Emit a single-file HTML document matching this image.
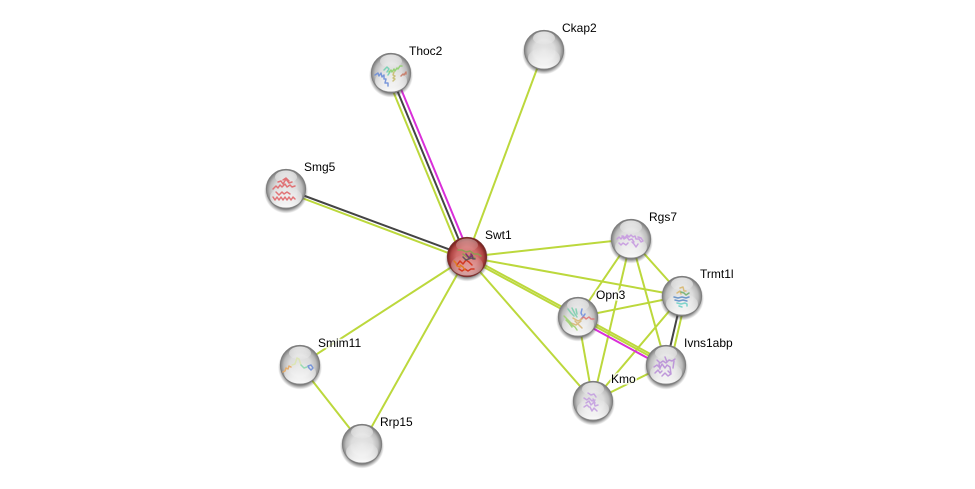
<!DOCTYPE html>
<html><head><meta charset="utf-8"><style>
html,body{margin:0;padding:0;background:#fff;width:975px;height:489px;overflow:hidden}
svg{display:block}
text{font-family:"Liberation Sans",sans-serif;font-size:12px;fill:#000}
.h{fill:#fff;stroke:#fff;stroke-width:3.5;stroke-opacity:.75;stroke-linejoin:round}
.g{stroke:#bcd83c;stroke-width:2;fill:none}
.s{fill:none;stroke-width:1.5;stroke-linecap:round;stroke-linejoin:round;stroke-opacity:.9}
</style></head><body>
<svg width="975" height="489" viewBox="0 0 975 489" xmlns="http://www.w3.org/2000/svg">
<defs>
<radialGradient id="b" cx="50%" cy="52%" r="50%">
<stop offset="0" stop-color="#e6e6e6"/><stop offset=".55" stop-color="#dcdcdc"/><stop offset=".82" stop-color="#bbb"/><stop offset="1" stop-color="#7f7f7f"/>
</radialGradient>
<radialGradient id="r" cx="50%" cy="52%" r="50%">
<stop offset="0" stop-color="#dd8482"/><stop offset=".55" stop-color="#d06c6a"/><stop offset=".82" stop-color="#b04644"/><stop offset="1" stop-color="#74201e"/>
</radialGradient>
<linearGradient id="hl" x1="0" y1="0" x2="0" y2="1">
<stop offset="0" stop-color="#fff" stop-opacity=".75"/><stop offset="1" stop-color="#fff" stop-opacity=".1"/>
</linearGradient>
<linearGradient id="bot" x1="0" y1="0" x2="0" y2="1">
<stop offset="0" stop-color="#fff" stop-opacity="0"/><stop offset="1" stop-color="#fff" stop-opacity=".95"/>
</linearGradient>
<radialGradient id="sh"><stop offset=".78" stop-color="#333" stop-opacity=".7"/><stop offset="1" stop-color="#555" stop-opacity="0"/></radialGradient>
<filter id="bl" x="-20%" y="-20%" width="140%" height="140%"><feGaussianBlur stdDeviation=".35"/></filter>
<g id="top"><ellipse cx="0" cy="-12" rx="11" ry="6.5" fill="url(#hl)"/><ellipse cx="0" cy="8" rx="16" ry="10.5" fill="url(#bot)"/></g>
<g id="base"><circle cx="0" cy="2.5" r="22" fill="url(#sh)"/><circle r="19.7" fill="url(#b)" stroke="#7d7d7d" stroke-width=".8"/></g>
</defs>

<g class="g">
<line x1="467" y1="257" x2="544" y2="50"/>
<line x1="467" y1="257" x2="631" y2="239"/>
<line x1="467" y1="257" x2="682" y2="296"/>
<line x1="467" y1="257" x2="593" y2="401"/>
<line x1="467" y1="257" x2="300" y2="365"/>
<line x1="467" y1="257" x2="362" y2="444"/>
<line x1="300" y1="365" x2="362" y2="444"/>
<line x1="631" y1="239" x2="682" y2="296"/>
<line x1="631" y1="239" x2="578" y2="317"/>
<line x1="631" y1="239" x2="666" y2="365"/>
<line x1="631" y1="239" x2="593" y2="401"/>
<line x1="682" y1="296" x2="578" y2="317"/>
<line x1="682" y1="296" x2="593" y2="401"/>
<line x1="578" y1="317" x2="593" y2="401"/>
<line x1="666" y1="365" x2="593" y2="401"/>
<line x1="467" y1="255.5" x2="578" y2="315.5"/>
<line x1="467" y1="258" x2="578" y2="318"/>
<line x1="578" y1="314.5" x2="666" y2="362.5"/>
<line x1="578" y1="317" x2="666" y2="365"/>
<line x1="386" y1="74" x2="462" y2="258"/>
<line x1="286" y1="192" x2="467" y2="260"/>
<line x1="686" y1="297" x2="670" y2="366"/>
</g>
<line x1="390" y1="73" x2="466" y2="257" stroke="#444" stroke-width="2"/>
<line x1="394" y1="72" x2="470" y2="256" stroke="#d92fd9" stroke-width="2"/>
<line x1="286" y1="189" x2="467" y2="256" stroke="#444" stroke-width="2"/>
<line x1="682" y1="296" x2="666" y2="365" stroke="#444" stroke-width="2"/>
<line x1="576" y1="319" x2="664" y2="367" stroke="#d92fd9" stroke-width="2"/>

<g id="nodes">
<g transform="translate(391,73)"><use href="#base"/><use href="#top"/><g filter="url(#bl)">
<path class="s" stroke="#6f8fd8" d="M-16 2l3-2 1 3 2-3 1 4 2-2 0 4 2 0-1 4 3 0 0 3"/>
<path class="s" stroke="#6fcfb0" d="M-7 -3l3-3 2 2-2 3M-3 2l2-3"/>
<path class="s" stroke="#8ed06a" d="M-2 -1l2-2 1 2 2-3 1 2 2-3 1 1 2-3 2 0"/>
<path class="s" stroke="#c8bd70" d="M3 -1l-1 3 2 1-2 2 2 1-2 2"/>
<path class="s" stroke="#c87a66" d="M10 3l2-2 1 1 2-3 0 2"/>
</g></g>

<g transform="translate(544,50)"><use href="#base"/><use href="#top"/></g>

<g transform="translate(286,189)"><use href="#base"/><use href="#top"/><g filter="url(#bl)">
<path class="s" stroke="#e0666a" d="M-13 0l3-3 2 2 2-3 2 2 3-3 2 3 3-2 2 2 3-1M-8 -7l3-1 2 3 3-5 3 4 3-1M-13 8l2 3 2-3 2 3 2-3 2 3 2-3 2 3 2-3 2 3 2-3 2 2M-10 3l3 3 3-3 2 2 3-2 3 2M-3 -9l3-2 3 3"/>
</g></g>

<g transform="translate(467,257)"><use href="#base" style="display:none"/><circle cx="0" cy="2.5" r="22" fill="url(#sh)"/><circle r="19.7" fill="url(#r)" stroke="#7a3432" stroke-width=".8"/><use href="#top" opacity=".55"/><g filter="url(#bl)">
<path class="s" stroke="#8aa050" d="M-9 -7l4 0 4 2 4-1 4 3 4 0 3 2M-4 -3l4 3 4-2 4 3"/>
<path class="s" stroke="#7a2a70" d="M-1 -3l3 4 3-3 1 4M4 -3l2 4"/>
<path class="s" stroke="#d03018" d="M-10 8l3-4 3 3 3-4 3 2 3 3M-8 12l3 2 3-2 3 2 3-2 3 0"/>
<path class="s" stroke="#e07a18" d="M-13 4l2 2 1 3 3 1M-7 8l3 2 2 3"/>
<path class="s" stroke="#555" d="M-4 0l3 3 5-2 4 1"/>
</g></g>

<g transform="translate(631,239)"><use href="#base"/><use href="#top"/><g filter="url(#bl)">
<path class="s" stroke="#c79ae0" d="M-14 0l2-2 2 2 2-3 2 2 2-3 2 2 2-2 2 2 2-1 1 3 3 0 2 3 2-1M-12 4l2 2 2-2 3 2 2-2M1 3l2 2 2 3 2-3M-4 -2l2 3 3-1 2 3M-9 -3l2 3 3-2M7 -2l3 1 2 3"/>
</g></g>

<g transform="translate(682,296)"><use href="#base"/><use href="#top"/><g filter="url(#bl)">
<path class="s" stroke="#d8b870" d="M-2 -8l3-1 1 4 2 0M-5 -3l3-2 1 3"/>
<path class="s" stroke="#70b070" d="M-1 -4l3 1 2 2 3-2"/>
<path class="s" stroke="#5f8fc8" d="M-8 1l4 1 4-1 4 1 3-1M-7 4l4 1 4-1 4 1"/>
<path class="s" stroke="#70d0c8" d="M-5 7l4 1 4-1 2 1 0 2M-3 10l3 1"/>
</g></g>

<g transform="translate(578,317)"><use href="#base"/><use href="#top"/><g filter="url(#bl)">
<path class="s" stroke="#7dcfae" d="M-10 -8l3 4 3 3M-6 -9l3 6 2 3M-2 -8l1 5"/>
<path class="s" stroke="#6f8fe0" d="M4 -8l-1 4 1 2M7 -3l-3 4"/>
<path class="s" stroke="#e07878" d="M3 2l3-2 2 2 3-2 2 2 3 0"/>
<path class="s" stroke="#d8b878" d="M-5 1l5 3 4-2M-7 6l5 2 5-4M-3 4l4 4 3 3"/>
<path class="s" stroke="#a0d070" d="M-14 -1l3 3 3 3 2 3 3 2 2 3M-12 3l3 3 3 4"/>
</g></g>

<g transform="translate(666,365)"><use href="#base"/><use href="#top"/><g filter="url(#bl)">
<path class="s" stroke="#b98fd8" d="M-9 -5l3 3 3-2 3 2 3-3 3 1 3-2M-12 2l3-2 3 3 2-4 3 4 2-3 3 2M-11 8l3-3 2 3 2-2M-4 11l3-3 3 3 3-2M4 2l1 7-3-3M8 -4l-1 7M-7 -1l1 5M-1 -8l2 5"/>
</g></g>

<g transform="translate(593,401)"><use href="#base"/><use href="#top"/><g filter="url(#bl)">
<path class="s" stroke="#c4a0e0" d="M-9 -3l3 2 2-2 3 3 3-1M-7 2l3-2 2 4 3-3 1 4 3-1M-3 6l2 4 2-3 3 3M-9 6l3-2 2 2M-5 -8l3 2 3-1 2 3M0 -2l2 4"/>
</g></g>

<g transform="translate(300,365)"><use href="#base"/><use href="#top"/><g filter="url(#bl)">
<path class="s" stroke="#e8a860" d="M-17 7l2-1 1-3 2 1 1-3 2 1"/>
<path class="s" stroke="#dbe6b0" stroke-width="1" d="M-8 0l3-1 2-6 2 1 2 6"/>
<path class="s" stroke="#8fd8b0" d="M1 0l3 3 3-1"/>
<path class="s" stroke="#6f8fd8" d="M8 1l3-1 2 3-2 2-2-2z"/>
</g></g>

<g transform="translate(362,444)"><use href="#base"/><use href="#top"/></g>
</g>

<g>
<text class="h" x="409" y="55">Thoc2</text><text x="409" y="55">Thoc2</text>
<text class="h" x="562" y="32">Ckap2</text><text x="562" y="32">Ckap2</text>
<text class="h" x="304" y="171">Smg5</text><text x="304" y="171">Smg5</text>
<text class="h" x="485" y="239">Swt1</text><text x="485" y="239">Swt1</text>
<text class="h" x="649" y="221">Rgs7</text><text x="649" y="221">Rgs7</text>
<text class="h" x="700" y="278">Trmt1l</text><text x="700" y="278">Trmt1l</text>
<text class="h" x="596" y="299">Opn3</text><text x="596" y="299">Opn3</text>
<text class="h" x="684" y="347">Ivns1abp</text><text x="684" y="347">Ivns1abp</text>
<text class="h" x="611" y="383">Kmo</text><text x="611" y="383">Kmo</text>
<text class="h" x="318" y="347">Smim11</text><text x="318" y="347">Smim11</text>
<text class="h" x="380" y="426">Rrp15</text><text x="380" y="426">Rrp15</text>
</g>
</svg>
</body></html>
